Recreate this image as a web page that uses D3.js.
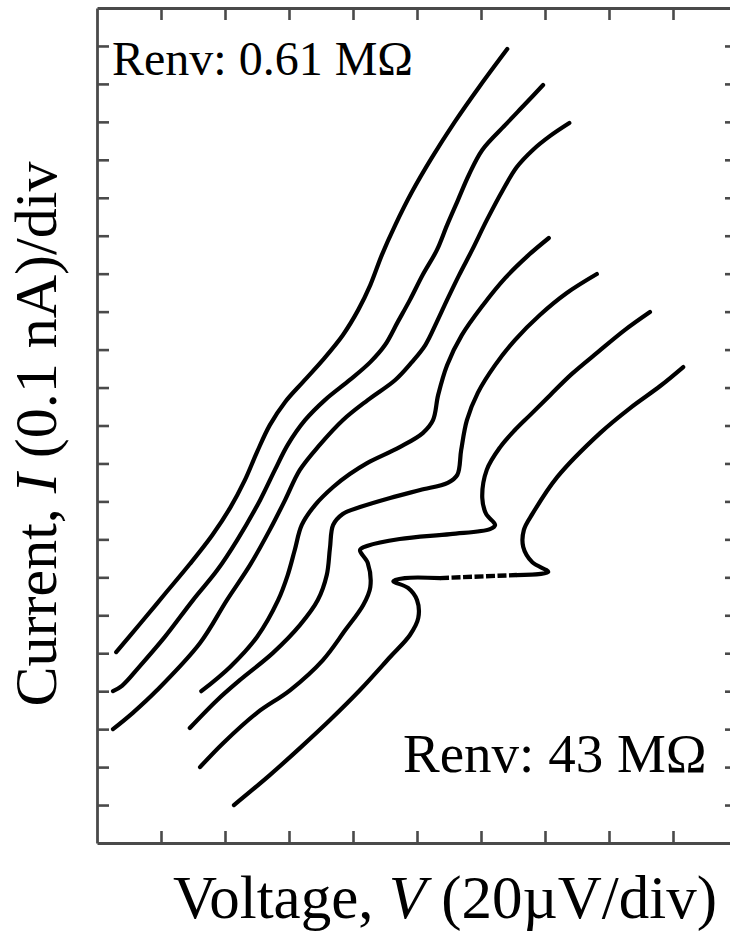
<!DOCTYPE html>
<html>
<head>
<meta charset="utf-8">
<script src="https://cdn.jsdelivr.net/npm/d3@7"></script>
<style>
  html, body { margin: 0; padding: 0; background: #fff; }
  svg { display: block; }
  text { font-family: "Liberation Serif", "Times New Roman", serif; fill: #000; }
</style>
</head>
<body>
<svg id="chart" width="730" height="935"></svg>
<script>
// ---- data (x: voltage in divisions of 20 µV, y: current in divisions of 0.1 nA) ----
const xTicks = [1, 2, 3, 4, 5, 6, 7, 8, 9];
const yTicks = [1, 2, 3, 4, 5, 6, 7, 8, 9, 10, 11, 12, 13, 14, 15, 16, 17, 18, 19, 20, 21];
const labelTop = "Renv: 0.61 MΩ";
const labelBottom = "Renv: 43 MΩ";

const curve1 = [[0.30,5.03],[0.67,5.77],[1.06,6.56],[1.45,7.35],[1.80,8.11],[2.08,8.83],[2.31,9.56],[2.50,10.30],[2.70,11.01],[2.94,11.62],[3.22,12.15],[3.53,12.73],[3.84,13.38],[4.08,14.04],[4.27,14.70],[4.45,15.49],[4.66,16.28],[4.92,17.15],[5.23,18.05],[5.59,19.00],[5.98,19.94],[6.41,20.92]];
const curve2 = [[0.25,4.00],[0.39,4.14],[0.67,4.66],[1.06,5.43],[1.50,6.40],[1.88,7.19],[2.19,7.98],[2.55,9.04],[2.78,9.83],[2.98,10.49],[3.25,11.14],[3.56,11.67],[3.95,12.20],[4.27,12.67],[4.50,13.12],[4.70,13.73],[4.89,14.31],[5.09,14.97],[5.31,15.62],[5.47,16.28],[5.64,16.94],[5.81,17.60],[6.02,18.26],[6.38,18.92],[6.69,19.47],[6.97,19.97]];
const curve3 = [[0.25,3.00],[0.56,3.43],[0.94,4.03],[1.61,5.27],[2.03,6.40],[2.39,7.32],[2.70,8.25],[2.94,9.04],[3.17,9.83],[3.48,10.49],[3.84,11.14],[4.23,11.67],[4.66,12.20],[4.92,12.67],[5.13,13.12],[5.31,13.73],[5.47,14.31],[5.66,14.97],[5.86,15.62],[6.09,16.41],[6.34,17.20],[6.56,17.81],[6.81,18.26],[7.08,18.63],[7.38,18.97]];
const curve4 = [[1.63,4.00],[2.08,4.64],[2.50,5.43],[2.83,6.40],[2.98,7.06],[3.09,7.72],[3.20,8.38],[3.41,8.91],[3.69,9.38],[3.95,9.72],[4.22,10.01],[4.73,10.43],[5.09,10.80],[5.25,11.14],[5.33,11.80],[5.47,12.59],[5.70,13.38],[6.03,14.17],[6.38,14.89],[6.73,15.47],[7.06,15.94]];
const curve5 = [[1.45,3.03],[1.88,3.77],[2.23,4.29],[2.75,5.01],[3.17,5.74],[3.45,6.40],[3.59,7.06],[3.64,7.77],[3.69,8.38],[3.84,8.67],[4.11,8.85],[4.58,9.09],[5.05,9.30],[5.48,9.49],[5.63,9.70],[5.69,10.35],[5.78,11.14],[5.95,11.86],[6.22,12.59],[6.53,13.25],[6.92,13.91],[7.34,14.49],[7.81,14.99]];
const curve6 = [[1.61,2.00],[1.97,2.63],[2.50,3.43],[3.02,4.03],[3.53,4.82],[3.88,5.61],[4.16,6.27],[4.27,6.74],[4.23,7.38],[4.11,7.72],[4.23,7.83],[4.73,8.01],[5.52,8.14],[6.14,8.27],[6.22,8.38],[6.08,8.67],[6.02,9.09],[6.09,9.83],[6.30,10.43],[6.53,10.88],[6.77,11.28],[7.08,11.80],[7.42,12.36],[7.83,12.94],[8.25,13.52],[8.64,13.99]];
const curve7Low = [[2.14,1.00],[2.70,1.79],[3.17,2.50],[3.64,3.24],[4.11,4.03],[4.58,4.90],[4.89,5.48],[5.02,5.93],[5.00,6.40],[4.86,6.72],[4.63,6.90],[4.81,6.98],[5.36,6.98]];
const curve7Jump = [[5.36,6.98],[6.56,7.06]];
const curve7High = [[6.56,7.06],[7.05,7.14],[6.80,7.40],[6.66,7.80],[6.67,8.25],[6.81,8.69],[7.19,9.64],[7.86,10.80],[8.33,11.46],[8.80,12.04],[9.16,12.54]];

const solidCurves = [curve1, curve2, curve3, curve4, curve5, curve6, curve7Low, curve7High];
const dashedCurves = [curve7Jump];

// ---- layout ----
const svg = d3.select("#chart");
const mLeft = 97, mRight = 737, mTop = 8, mBottom = 843;
const x = d3.scaleLinear().domain([0, 10]).range([mLeft, mRight]);
const y = d3.scaleLinear().domain([0, 22]).range([mBottom, mTop]);

const frameColor = "#4a4a4a";
function styleAxis(g) {
  g.selectAll("path.domain").attr("stroke", frameColor).attr("stroke-width", 2.8);
  g.selectAll(".tick line").attr("stroke", frameColor).attr("stroke-width", 2.6);
  g.selectAll(".tick text").remove();
}
svg.append("g").attr("transform", `translate(0,${mBottom})`)
  .call(d3.axisBottom(x).tickValues(xTicks).tickSizeInner(-12).tickSizeOuter(0).tickFormat(""))
  .call(styleAxis);
svg.append("g").attr("transform", `translate(0,${mTop})`)
  .call(d3.axisTop(x).tickValues(xTicks).tickSizeInner(-12).tickSizeOuter(0).tickFormat(""))
  .call(styleAxis);
svg.append("g").attr("transform", `translate(${mLeft},0)`)
  .call(d3.axisLeft(y).tickValues(yTicks).tickSizeInner(-12).tickSizeOuter(0).tickFormat(""))
  .call(styleAxis);
svg.append("g").attr("transform", `translate(${mRight},0)`)
  .call(d3.axisRight(y).tickValues(yTicks).tickSizeInner(-12).tickSizeOuter(0).tickFormat(""))
  .call(styleAxis);

const line = d3.line().x(d => x(d[0])).y(d => y(d[1])).curve(d3.curveCatmullRom.alpha(0.5));

svg.append("g").selectAll("path").data(solidCurves).join("path")
  .attr("d", line).attr("fill", "none").attr("stroke", "#000")
  .attr("stroke-width", 4.2).attr("stroke-linecap", "round").attr("stroke-linejoin", "round");
svg.append("g").selectAll("path").data(dashedCurves).join("path")
  .attr("d", line).attr("fill", "none").attr("stroke", "#000")
  .attr("stroke-width", 4.4).attr("stroke-dasharray", "9,2.5");

// ---- text ----
svg.append("text").attr("x", 112).attr("y", 75).attr("font-size", 48).text(labelTop);
svg.append("text").attr("x", 403).attr("y", 772).attr("font-size", 55).text(labelBottom);

const xl = svg.append("text").attr("x", 445).attr("y", 918).attr("font-size", 61).attr("text-anchor", "middle");
xl.append("tspan").text("Voltage, ");
xl.append("tspan").attr("font-style", "italic").text("V");
xl.append("tspan").text(" (20µV/div)");

const yl = svg.append("text").attr("transform", "translate(56,434) rotate(-90)")
  .attr("font-size", 60).attr("text-anchor", "middle");
yl.append("tspan").text("Current, ");
yl.append("tspan").attr("font-style", "italic").text("I");
yl.append("tspan").text(" (0.1 nA)/div");
</script>
</body>
</html>
